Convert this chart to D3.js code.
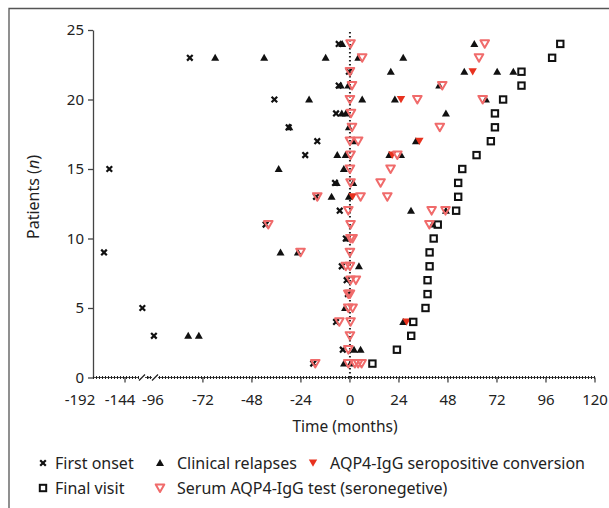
<!DOCTYPE html>
<html><head><meta charset="utf-8">
<script src="https://cdn.jsdelivr.net/npm/d3@7"></script>
<style>
body{margin:0;background:#fff;}
text{font-family:"Noto Sans","Open Sans",sans-serif;fill:#222;}
</style></head><body>
<svg id="c" width="609" height="508"></svg>
<script>
// [patient, month]
const firstOnset = [[1,-18],[2,-3.5],[3,-96],[4,-6.8],[5,-118],[6,-1],[7,-1.6],[8,-4],[9,-175.5],[10,-2],[11,-41.3],[12,-5],[13,-16.6],[14,-7.3],[15,-167.5],[16,-21.9],[17,-16],[18,-30],[19,-6.8],[20,-37],[21,-5.5],[22,-0.5],[23,-78.4],[24,-5.5]];
const relapses = [[1,-2.9],[1,0.3],[2,2],[2,5.2],[3,-79.2],[3,-74],[4,26.1],[5,-2.4],[8,4.4],[9,-34],[9,-25.5],[10,-1.6],[11,40.5],[12,29.9],[12,47],[13,-9],[13,-0.5],[14,-6.5],[14,1.6],[15,-34.9],[15,-3],[16,-6.2],[16,-2.1],[16,19.3],[16,25],[17,2],[17,32.3],[18,-29.7],[18,-0.5],[19,-4],[19,-2],[19,47],[20,-20],[20,6],[20,22],[20,66.6],[21,-4.5],[21,-0.8],[21,43.7],[22,20],[22,56],[22,72.1],[22,80],[23,-66],[23,-42],[23,-11.9],[23,4.1],[23,26.1],[24,-3.8],[24,60.9]];
const seroConversion = [[4,27.7],[13,1.3],[16,20.7],[17,34],[20,25],[22,60.1]];
const finalVisit = [[1,11],[2,23],[3,30],[4,31],[5,37],[6,38],[7,38],[8,39],[9,39],[10,41],[11,43],[12,52],[13,53],[14,53],[15,55],[16,62],[17,69],[18,71],[19,71],[20,75],[21,84],[22,84],[23,99],[24,103]];
const seroNegTest = [[1,-17],[1,-0.8],[1,2.4],[1,4],[1,5.7],[2,-0.8],[3,0],[4,-5.2],[4,0.3],[5,-0.8],[5,1.3],[6,-0.8],[6,0],[7,0.3],[7,2.9],[8,-2],[8,0],[9,-24.2],[9,0],[10,0.3],[10,1.3],[11,-40],[11,0.3],[11,38.9],[12,-0.8],[12,40],[12,46.8],[13,-16],[13,5.2],[13,18.3],[14,0.3],[14,15],[15,0],[15,19.9],[16,0.3],[16,23.2],[17,0],[17,4],[18,1],[18,44],[19,0.5],[20,0],[20,33],[20,65],[21,1],[21,45.2],[22,0],[23,6],[23,63.2],[24,0.3],[24,66]];
const xTicks = [-192,-144,-96,-72,-48,-24,0,24,48,72,96,120];
const yTicks = [0,5,10,15,20,25];
const legendItems = [
  {key:"onset",label:"First onset"},
  {key:"relapse",label:"Clinical relapses"},
  {key:"conv",label:"AQP4-IgG seropositive conversion"},
  {key:"final",label:"Final visit"},
  {key:"neg",label:"Serum AQP4-IgG test (seronegetive)"}
];

const svg = d3.select("#c");
// frame
svg.append("path").attr("d","M9,508V8.5H609").attr("fill","none").attr("stroke","#555").attr("stroke-width",1.3);

const x = d3.scaleLinear().domain([-192,-110,-96,120]).range([93,147.7,153.9,595]);
const y = d3.scaleLinear().domain([0,25]).range([377.5,30]);

// y axis
const ya = svg.append("g").attr("transform","translate(93,0)")
  .call(d3.axisLeft(y).tickValues(yTicks).tickSize(5).tickSizeOuter(0).tickPadding(4));
ya.select(".domain").attr("stroke","#444").attr("stroke-width",1.3);
ya.selectAll(".tick line").attr("stroke","#444").attr("stroke-width",1.3);
ya.selectAll(".tick text").attr("font-size",15).attr("fill","#222").style("font-family","Noto Sans");

// x axis
const x0 = y(0);
const xa = svg.append("g");
xa.append("line").attr("x1",93).attr("x2",595).attr("y1",x0).attr("y2",x0).attr("stroke","#444").attr("stroke-width",1.2);
xa.append("line").attr("x1",93).attr("x2",595).attr("y1",x0).attr("y2",x0).attr("stroke","#222").attr("stroke-width",3).attr("stroke-dasharray","1,2");
xTicks.filter(t=>t!==-96 && t!==-192).forEach(t=>{
  xa.append("line").attr("x1",x(t)).attr("x2",x(t)).attr("y1",x0).attr("y2",x0+5).attr("stroke","#444").attr("stroke-width",1.3);
});
const labelShift = {"-192":-13,"-144":-5,"-96":-1};
xTicks.forEach(t=>{
  xa.append("text").attr("x",x(t)+(labelShift[t]||0)).attr("y",x0+27).attr("text-anchor","middle").attr("font-size",15).text(t);
});
// break marks
[142,155].forEach(bx=>{
  xa.append("rect").attr("x",bx-3).attr("y",x0-3).attr("width",6).attr("height",6).attr("fill","#fff");
  xa.append("line").attr("x1",bx-3).attr("x2",bx+3).attr("y1",x0+3).attr("y2",x0-3).attr("stroke","#222").attr("stroke-width",1.3);
});
xa.append("circle").attr("cx",148.5).attr("cy",x0).attr("r",0.9).attr("fill","#222");

// zero reference
svg.append("line").attr("x1",x(0)).attr("x2",x(0)).attr("y1",y(0)).attr("y2",y(25)).attr("stroke","#222").attr("stroke-width",2).attr("stroke-dasharray","1.5,2.5");

// labels
svg.append("text").attr("x",345).attr("y",432).attr("text-anchor","middle").attr("font-size",15.5).text("Time (months)");
const yl = svg.append("text").attr("transform","translate(39,197) rotate(-90)").attr("text-anchor","middle").attr("font-size",16);
yl.append("tspan").text("Patients (");
yl.append("tspan").attr("font-style","italic").text("n");
yl.append("tspan").text(")");

// markers
const RED_OPEN="#f06b6b", RED_FILL="#e8321f";
function drawMarker(g,key,cx,cy){
  if(key==="onset"){
    g.append("path").attr("d",`M${cx-2.8},${cy-2.8}L${cx+2.8},${cy+2.8}M${cx-2.8},${cy+2.8}L${cx+2.8},${cy-2.8}`).attr("stroke","#111").attr("stroke-width",2.2);
  } else if(key==="relapse"){
    g.append("path").attr("d",`M${cx},${cy-4}L${cx+4},${cy+3}L${cx-4},${cy+3}Z`).attr("fill","#111");
  } else if(key==="conv"){
    g.append("path").attr("d",`M${cx-4.2},${cy-3.5}L${cx+4.2},${cy-3.5}L${cx},${cy+3.8}Z`).attr("fill",RED_FILL);
  } else if(key==="final"){
    g.append("rect").attr("x",cx-3.2).attr("y",cy-3.2).attr("width",6.4).attr("height",6.4).attr("fill","none").attr("stroke","#111").attr("stroke-width",2);
  } else if(key==="neg"){
    g.append("path").attr("d",`M${cx-4.3},${cy-3.6}L${cx+4.3},${cy-3.6}L${cx},${cy+3.9}Z`).attr("fill","none").attr("stroke",RED_OPEN).attr("stroke-width",2).attr("stroke-linejoin","round");
  }
}
const plot = svg.append("g");
[["onset",firstOnset],["relapse",relapses],["conv",seroConversion],["final",finalVisit],["neg",seroNegTest]].forEach(([k,arr])=>{
  const g = plot.append("g");
  arr.forEach(d=>drawMarker(g,k,x(d[1]),y(d[0])));
});

// legend
const lg = svg.append("g");
const pos = [[43,463],[160,463],[313,463],[43,488],[160,488]];
legendItems.forEach((it,i)=>{
  const [lx,ly]=pos[i];
  drawMarker(lg,it.key,lx,ly);
  lg.append("text").attr("x",lx+(i%3===0?12:17)).attr("y",ly+5.5).attr("font-size",16).text(it.label);
});
</script>
</body></html>
